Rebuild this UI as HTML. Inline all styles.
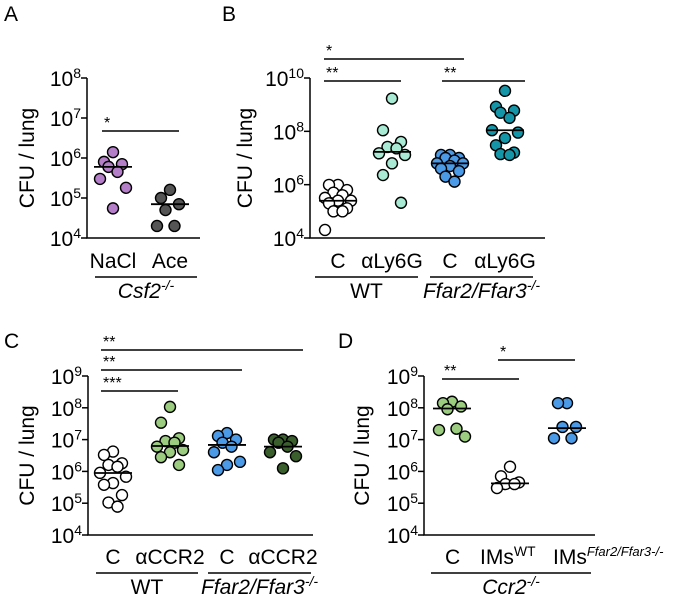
<!DOCTYPE html>
<html><head><meta charset="utf-8"><style>
html,body{margin:0;padding:0;background:#fff}
svg{display:block;font-family:"Liberation Sans",Arial,sans-serif}
</style></head><body>
<svg id="fig" width="675" height="610" viewBox="0 0 675 610"></svg>
<script>
// Panel A data (CFU values)
const catsA = ["NaCl","Ace"];
const valsA_NaCl = [1.4e6,8e5,7e5,6e5,4.5e5,3e5,1.8e5,5.5e4];
const valsA_Ace = [1.6e5,1e5,7e4,5e4,2e4,2e4];
const medA = [6e5,7e4];
// Panel B
const catsB = ["C","αLy6G","C","αLy6G"];
const valsB_WTC = [9.8e5,9.8e5,6.3e5,5e5,4e5,3.2e5,2.5e5,2.5e5,2e5,1.3e5,1e5,1e5,2e4];
const valsB_WTLy = [1.7e9,1.1e8,4e7,2.6e7,2.3e7,1.5e7,1.3e7,6.3e6,2.3e6,2.1e5];
const valsB_KOC = [1.3e7,1.3e7,1e7,1e7,8e6,6.3e6,6.3e6,5e6,4e6,3.2e6,2e6,1.3e6];
const valsB_KOLy = [3.3e9,8.3e8,6e8,5e8,3.2e8,1.1e8,9e7,5.6e7,3e7,1.6e7,1.4e7,1.3e7];
const medB = [2.5e5,1.7e7,6.3e6,1.1e8];
// Panel C
const catsC = ["C","αCCR2","C","αCCR2"];
const valsC_WTC = [4.2e6,3.3e6,1.8e6,1.6e6,1.4e6,9e5,6.8e5,4.3e5,3.8e5,1.8e5,1.05e5,7.8e4];
const valsC_WTCCR = [1.07e8,3.4e7,1.1e7,9e6,8e6,6e6,4.7e6,4e6,2.8e6,1.6e6];
const valsC_KOC = [1.6e7,1.3e7,1e7,8e6,6e6,4e6,2e6,1.6e6,1.1e6];
const valsC_KOCCR = [1e7,1e7,9e6,8e6,6e6,4e6,3e6,1.25e6];
const medC = [8.9e5,6.3e6,6.8e6,6e6];
// Panel D
const catsD = ["C","IMs","IMs"];
const valsD_C = [1.55e8,1.4e8,1.1e8,9e7,2.2e7,2e7,1.25e7];
const valsD_WT = [1.4e6,7e5,4.5e5,4e5,4e5,3e5];
const valsD_KO = [1.4e8,1.4e8,2.5e7,2.5e7,1.1e7,1.1e7];
const medD = [9.5e7,4.2e5,2.3e7];

const NS="http://www.w3.org/2000/svg";
const svg=document.getElementById('fig');
const FS=21;
function mk(tag,attrs,parent){const e=document.createElementNS(NS,tag);for(const k in attrs)e.setAttribute(k,attrs[k]);(parent||svg).appendChild(e);return e;}
function txt(x,y,s,size,anchor,parent,style){const t=mk('text',{x:x,y:y,'font-size':size,'text-anchor':anchor||'start',fill:'#000'},parent);if(style)t.setAttribute('font-style',style);t.textContent=s;return t;}
function sup(t,base,exp,italic,sz){t.textContent='';const a=document.createElementNS(NS,'tspan');a.textContent=base;t.appendChild(a);const b=document.createElementNS(NS,'tspan');b.setAttribute('dy','-8');b.setAttribute('font-size',sz||'14');b.textContent=exp;if(italic)b.setAttribute('font-style','italic');t.appendChild(b);}
const jit=[0,-9,9,-4.5,4.5,-13,13,0,-9,9,-4.5,4.5,-13,13];

function panel(p){
  const g=mk('g',{});
  
  
  const y=v=>p.y0-(Math.log10(v)-p.lmin)/(p.lmax-p.lmin)*(p.y0-p.y1);
  const ax=mk('path',{d:`M${p.ax},${p.y1}V${p.y0}H${p.xEnd}`,stroke:'#000','stroke-width':1.5,fill:'none'},g);
  
  
  for(let e=p.lmin;e<=p.lmax;e+=p.step){
    const yy=y(Math.pow(10,e));
    mk('line',{x1:p.ax-6,x2:p.ax,y1:yy,y2:yy,stroke:'#000','stroke-width':1.5},g);
    const t=txt(p.ax-6,yy+8,'',FS,'end',g);
    
    
    sup(t,'10',String(e));
  }
  const yt=txt(0,0,'CFU / lung',FS,'middle',g);
  yt.setAttribute('transform',`translate(${p.titleX},${(p.y0+p.y1)/2}) rotate(-90)`);
  
  
  p.groups.forEach((gr,i)=>{
    const cx=p.cx[i];
    gr.vals.forEach((v,j)=>{
      const c=mk('circle',{cx:cx+jit[j%jit.length],cy:y(v),r:5.5,fill:gr.color,stroke:'#000','stroke-width':1.4},g);
      
      
    });
    const my=y(p.med[i]);
    const m=mk('line',{x1:cx-19,x2:cx+19,y1:my,y2:my,stroke:'#000','stroke-width':1.8},g);
    
    
    const lx=p.labX?p.labX[i]:cx;
    const lab=txt(lx,p.labY,p.cats[i],FS,p.labX?'start':'middle',g);
    
    
    if(p.sups&&p.sups[i]){sup(lab,p.cats[i],p.sups[i],p.supIt[i],p.supSz[i]);}
  });
  p.sig.forEach(s=>{
    const l=mk('line',{x1:s[0],x2:s[1],y1:s[2],y2:s[2],stroke:'#000','stroke-width':1.5},g);
    
    
    const st=txt(s[0]+2,s[2]-3,s[3],16,'start',g);
    
    
  });
  p.under.forEach(u=>{
    const l=mk('line',{x1:u[0],x2:u[1],y1:p.uy,y2:p.uy,stroke:'#000','stroke-width':1.5},g);
    
    
    const t=txt((u[0]+u[1])/2,p.uy+21,u[2],FS,'middle',g,u[3]?'italic':null);
    
    
    if(u[4]) sup(t,u[2],u[4]);
  });
  const L=txt(p.letter[1],p.letter[2],p.letter[0],21,'start',g);
  
  
}

panel({name:'panel-a',ax:87,xEnd:200,y0:238,y1:78,lmin:4,lmax:8,step:1,titleX:34,
  cats:catsA,cx:[113,170],med:medA,labY:268,
  groups:[{vals:valsA_NaCl,color:'#b47fc8'},{vals:valsA_Ace,color:'#555555'}],
  sig:[[102,179,131,'*']],uy:277,under:[[95,197,'Csf2','i','-/-']],letter:['A',4,21]});
panel({name:'panel-b',ax:310,xEnd:545,y0:238,y1:78,lmin:4,lmax:10,step:2,titleX:252,
  cats:catsB,cx:[338,392,450,505],med:medB,labY:268,
  groups:[{vals:valsB_WTC,color:'#ffffff'},{vals:valsB_WTLy,color:'#a8ead4'},{vals:valsB_KOC,color:'#4a9ae8'},{vals:valsB_KOLy,color:'#1596a8'}],
  sig:[[324,464,59,'*'],[324,401,81,'**'],[442,525,81,'**']],uy:277,
  under:[[315,418,'WT',0],[430,533,'Ffar2/Ffar3','i','-/-']],letter:['B',222,21]});
panel({name:'panel-c',ax:88,xEnd:313,y0:535,y1:376,lmin:4,lmax:9,step:1,titleX:34,
  cats:catsC,cx:[113,170,227,283],med:medC,labY:564,
  groups:[{vals:valsC_WTC,color:'#ffffff'},{vals:valsC_WTCCR,color:'#9ccc80'},{vals:valsC_KOC,color:'#4a9ae8'},{vals:valsC_KOCCR,color:'#3a5e2c'}],
  sig:[[101,303,350,'**'],[101,242,370,'**'],[101,178,391,'***']],uy:573,
  under:[[96,198,'WT',0],[208,311,'Ffar2/Ffar3','i','-/-']],letter:['C',4,348]});
panel({name:'panel-d',ax:424,xEnd:595,y0:535,y1:376,lmin:4,lmax:9,step:1,titleX:369,
  cats:catsD,sups:[null,'WT','Ffar2/Ffar3-/-'],supIt:[false,false,true],supSz:[14,14,13],
  labX:[445,480,553],cx:[452,510,567],med:medD,labY:564,
  groups:[{vals:valsD_C,color:'#9ccc80'},{vals:valsD_WT,color:'#ffffff'},{vals:valsD_KO,color:'#4a9ae8'}],
  sig:[[442,519,379,'**'],[498,575,360,'*']],uy:573,
  under:[[431,591,'Ccr2','i','-/-']],letter:['D',338,348]});
</script>
</body></html>
